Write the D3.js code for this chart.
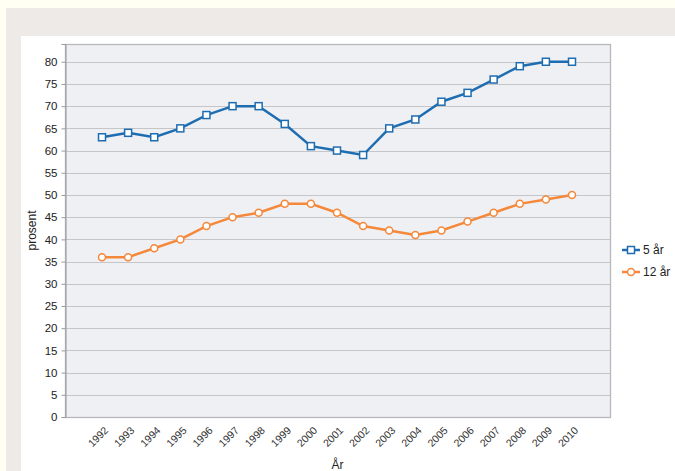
<!DOCTYPE html>
<html>
<head>
<meta charset="utf-8">
<script src="https://cdn.jsdelivr.net/npm/d3@7"></script>
<style>
  body { margin: 0; background: #fffff3; }
  svg { display: block; font-family: 'Liberation Sans', Arial, sans-serif; }
</style>
</head>
<body>
<div id="chart"></div>
<script>
var years = [ '1992', '1993', '1994', '1995', '1996', '1997', '1998', '1999', '2000', '2001',
  '2002', '2003', '2004', '2005', '2006', '2007', '2008', '2009', '2010' ];
var fiveYears = [ 63, 64, 63, 65, 68, 70, 70, 66, 61, 60, 59, 65, 67, 71, 73, 76, 79, 80, 80 ];
var twelveYears = [ 36, 36, 38, 40, 43, 45, 46, 48, 48, 46, 43, 42, 41, 42, 44, 46, 48, 49, 50 ];
var yTicks = d3.range( 0, 85, 5 );
var seriesNames = [ '5 år', '12 år' ];

var width = 675, height = 471;
var plot = { left: 65, right: 610, top: 44, bottom: 417 };

var svg = d3.select( '#chart' ).append( 'svg' )
  .attr( 'width', width )
  .attr( 'height', height );

// page background frame
svg.append( 'rect' ).attr( 'x', 0 ).attr( 'y', 0 ).attr( 'width', width ).attr( 'height', height ).attr( 'fill', '#fffff3' );
svg.append( 'rect' ).attr( 'x', 6 ).attr( 'y', 8 ).attr( 'width', width - 6 ).attr( 'height', height - 8 ).attr( 'fill', '#eeeae8' );
svg.append( 'rect' ).attr( 'x', 21 ).attr( 'y', 36 ).attr( 'width', width - 21 ).attr( 'height', height - 36 ).attr( 'fill', '#ffffff' );

var xScale = d3.scalePoint()
  .domain( years )
  .range( [ plot.left + 37, plot.right - 38 ] );

var yScale = d3.scaleLinear()
  .domain( [ 0, 84 ] )
  .range( [ plot.bottom, plot.top ] );

// plot area
svg.append( 'rect' )
  .attr( 'x', plot.left ).attr( 'y', plot.top )
  .attr( 'width', plot.right - plot.left ).attr( 'height', plot.bottom - plot.top )
  .attr( 'fill', '#eff0f4' );

// gridlines
svg.append( 'g' )
  .selectAll( 'line' )
  .data( yTicks.filter( d => d > 0 ) )
  .enter()
  .append( 'line' )
    .attr( 'x1', plot.left ).attr( 'x2', plot.right )
    .attr( 'y1', d => Math.round( yScale( d ) ) + 0.5 )
    .attr( 'y2', d => Math.round( yScale( d ) ) + 0.5 )
    .attr( 'stroke', '#c6c6c8' )
    .attr( 'stroke-width', 1.2 );

svg.append( 'rect' )
  .attr( 'x', plot.left + 0.5 ).attr( 'y', plot.top + 0.5 )
  .attr( 'width', plot.right - plot.left ).attr( 'height', plot.bottom - plot.top )
  .attr( 'fill', 'none' )
  .attr( 'stroke', '#b8b8bc' )
  .attr( 'stroke-width', 1.3 );

// y axis
var yAxis = svg.append( 'g' )
  .attr( 'transform', 'translate(' + ( plot.left + 0.5 ) + ',0)' )
  .call( d3.axisLeft( yScale ).tickValues( yTicks ).tickSize( 4 ).tickPadding( 4 ) );
yAxis.select( '.domain' ).attr( 'stroke', '#9a9a9a' );
yAxis.selectAll( '.tick line' ).attr( 'stroke', '#9a9a9a' );
yAxis.selectAll( 'text' ).attr( 'font-size', 11.5 ).attr( 'fill', '#222' ).attr( 'font-family', "'Liberation Sans', Arial, sans-serif" );

// x labels
svg.append( 'g' )
  .selectAll( 'text' )
  .data( years )
  .enter()
  .append( 'text' )
    .attr( 'transform', d => 'translate(' + ( xScale( d ) + 7 ) + ',' + ( plot.bottom + 14 ) + ') rotate(-45)' )
    .attr( 'text-anchor', 'end' )
    .attr( 'font-size', 10.5 )
    .attr( 'fill', '#333' )
    .text( d => d );

// axis titles
svg.append( 'text' )
  .attr( 'x', ( plot.left + plot.right ) / 2 )
  .attr( 'y', 469 )
  .attr( 'text-anchor', 'middle' )
  .attr( 'font-size', 12 )
  .attr( 'fill', '#222' )
  .text( 'År' );

svg.append( 'text' )
  .attr( 'transform', 'translate(36,' + ( ( plot.top + plot.bottom ) / 2 ) + ') rotate(-90)' )
  .attr( 'text-anchor', 'middle' )
  .attr( 'font-size', 12 )
  .attr( 'fill', '#222' )
  .text( 'prosent' );

var series = [
  { name: seriesNames[ 0 ], values: fiveYears, color: '#1f6db1', marker: 'square' },
  { name: seriesNames[ 1 ], values: twelveYears, color: '#f5883a', marker: 'circle' }
];

var line = d3.line()
  .x( ( d, i ) => xScale( years[ i ] ) )
  .y( d => yScale( d ) );

function drawMarker( sel, s ) {
  if( s.marker === 'square' ) {
    sel.append( 'rect' )
      .attr( 'x', -3.5 ).attr( 'y', -3.5 )
      .attr( 'width', 7 ).attr( 'height', 7 )
      .attr( 'fill', '#fff' )
      .attr( 'stroke', s.color )
      .attr( 'stroke-width', 1.5 );
  } else {
    sel.append( 'circle' )
      .attr( 'r', 3.5 )
      .attr( 'fill', '#fff' )
      .attr( 'stroke', s.color )
      .attr( 'stroke-width', 1.5 );
  }
}

series.forEach( s => {
  svg.append( 'path' )
    .datum( s.values )
    .attr( 'd', line )
    .attr( 'fill', 'none' )
    .attr( 'stroke', s.color )
    .attr( 'stroke-width', 2.5 );

  svg.append( 'g' )
    .selectAll( 'g' )
    .data( s.values )
    .enter()
    .append( 'g' )
      .attr( 'transform', ( d, i ) => 'translate(' + xScale( years[ i ] ) + ',' + yScale( d ) + ')' )
      .each( function() { drawMarker( d3.select( this ), s ); } );
} );

// legend
var legend = svg.append( 'g' )
  .selectAll( 'g' )
  .data( series )
  .enter()
  .append( 'g' )
    .attr( 'transform', ( d, i ) => 'translate(622,' + ( 250 + i * 22 ) + ')' );

legend.append( 'line' )
  .attr( 'x1', 0 ).attr( 'x2', 18 )
  .attr( 'stroke', d => d.color )
  .attr( 'stroke-width', 2.5 );

legend.append( 'g' )
  .attr( 'transform', 'translate(9,0)' )
  .each( function( d ) { drawMarker( d3.select( this ), d ); } );

legend.append( 'text' )
  .attr( 'x', 21 )
  .attr( 'y', 4 )
  .attr( 'font-size', 12 )
  .attr( 'fill', '#222' )
  .text( d => d.name );
</script>
</body>
</html>
